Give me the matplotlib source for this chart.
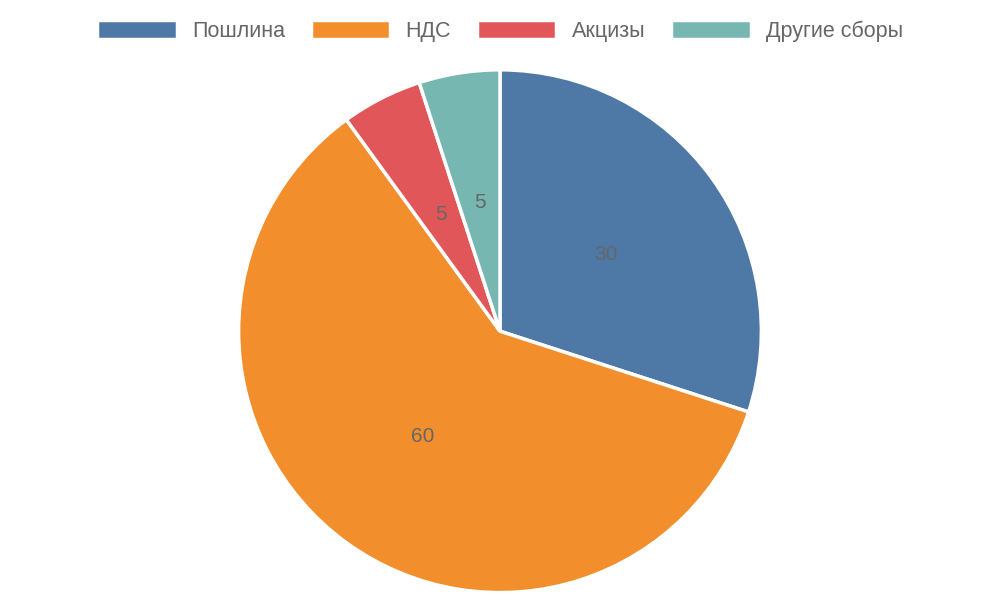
import math
import matplotlib
matplotlib.use("Agg")
import matplotlib.pyplot as plt

plt.rcParams['font.family'] = ['Liberation Sans', 'DejaVu Sans']

labels = ['Пошлина', 'НДС', 'Акцизы', 'Другие сборы']
values = [30, 60, 5, 5]
colors = ['#4e79a7', '#f28e2b', '#e15759', '#76b7b2']

fig = plt.figure(figsize=(10, 6), dpi=100)
ax = fig.add_axes([0.236, 0.008, 0.528, 0.88])

wedges, texts = ax.pie(values, colors=colors, startangle=90, counterclock=False,
                       wedgeprops={'edgecolor': 'white', 'linewidth': 2.5})
for w, v in zip(wedges, values):
    ang = math.radians((w.theta1 + w.theta2) / 2)
    ax.text(0.5 * math.cos(ang), 0.5 * math.sin(ang), str(v),
            ha='center', va='center', fontsize=15, color='#666666')
ax.set_xlim(-1.01, 1.01)
ax.set_ylim(-1.01, 1.01)
ax.set_aspect('equal')

fig.legend(wedges, labels, loc='center', bbox_to_anchor=(0.5, 0.948), ncol=4,
           frameon=False, fontsize=15.5, handlelength=3.7, handleheight=1.0,
           columnspacing=1.2, handletextpad=0.7, labelcolor='#666666')

fig.savefig('out.png')
